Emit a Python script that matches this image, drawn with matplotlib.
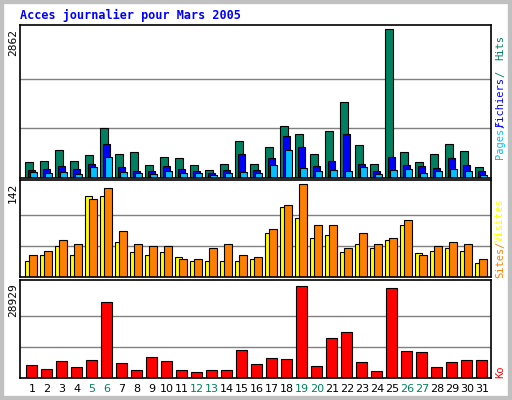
import matplotlib
matplotlib.use("Agg")
import matplotlib.pyplot as plt
from matplotlib.patches import Rectangle

days = [str(d) for d in range(1, 32)]
weekend = {5, 6, 12, 13, 19, 20, 26, 27}
hits = [317,337,531,337,434,958,453,492,259,414,376,259,162,278,706,278,589,997,842,453,900,1463,628,278,2862,492,317,453,648,512,220]
files = [162,181,240,181,278,648,220,142,142,240,181,142,104,162,453,162,376,803,589,240,337,842,278,142,395,259,240,201,376,259,142]
pages = [123,104,123,84,220,414,123,104,84,142,104,104,65,104,123,104,259,531,201,142,162,142,220,84,162,181,104,142,181,142,65]
visits = [33,40,56,50,119,137,71,50,47,47,28,27,44,51,33,31,73,110,142,80,80,44,67,50,60,87,34,48,53,50,27]
sites = [25,33,47,33,124,124,54,39,33,39,30,24,25,24,24,28,67,107,91,60,64,39,50,44,57,80,37,40,45,40,22]
ko = [4013,2746,5280,3379,5597,23654,4646,2429,6547,5280,2429,1795,2429,2429,8765,4330,6230,5914,28929,3696,12566,14467,4963,2112,28300,8448,8131,3379,4963,5597,5597]

W, H = 512, 400
fig = plt.figure(figsize=(5.12, 4.0), dpi=100)
fig.patch.set_facecolor("white")
fig.add_artist(Rectangle((0, 0), 1, 1, transform=fig.transFigure, fill=False, ec="#c0c0c0", lw=6))

def ax_px(x0, y0, x1, y1):
    return fig.add_axes([x0 / W, 1 - y1 / H, (x1 - x0) / W, (y1 - y0) / H])

def style(ax, vmax, top):
    ax.set_xlim(-0.5, 30.9)
    ax.set_ylim(0, vmax * top)
    for g in (vmax / 3, 2 * vmax / 3):
        ax.axhline(g, color="#808080", lw=1, zorder=0)
    ax.set_xticks([]); ax.set_yticks([])
    for s in ax.spines.values():
        s.set_linewidth(1.2)

x = list(range(31))
ek = dict(edgecolor="black", linewidth=0.8, align="edge", zorder=2)

ax1 = ax_px(20, 25, 491, 178)
ax1.bar([i - 0.17 for i in x], hits, 0.53, color="#008060", **ek)
ax1.bar([i + 0.03 for i in x], files, 0.47, color="#0000ff", **ek)
ax1.bar([i + 0.17 for i in x], pages, 0.47, color="#00c0ff", **ek)
style(ax1, max(hits), 1.03)

ax2 = ax_px(20, 180, 491, 277)
ax2.bar([i - 0.15 for i in x], sites, 0.45, color="#ffff00", **ek)
ax2.bar([i + 0.1 for i in x], visits, 0.5, color="#ff8000", **ek)
style(ax2, max(visits), 1.047)

ax3 = ax_px(20, 280, 491, 378)
ax3.bar([i - 0.1 for i in x], ko, 0.73, color="#ff0000", **ek)
style(ax3, max(ko), 1.06)
for i, d in enumerate(days):
    ax3.text(i + 0.3, -0.06, d, transform=ax3.get_xaxis_transform(), ha="center", va="top",
             fontsize=8, color="#008060" if int(d) in weekend else "black")

mono = "DejaVu Sans Mono"
fig.text(20 / W, 1 - 15 / H, "Acces journalier pour Mars 2005", color="#0000ff", fontsize=8.5,
         family=mono, fontweight="bold", va="center", ha="left")

def side(px, py, s, c, fs=7.5):
    fig.text(px / W, 1 - py / H, s, color=c, rotation=90, fontsize=fs, family=mono,
             ha="center", va="center")

side(13, 42, "2862", "black", 8)
side(13, 193, "142", "black", 8)
side(13, 300, "28929", "black", 8)
side(500, 143, "Pages", "#00c0ff")
side(500, 125, "/", "#0000ff")
side(500, 101, "Fichiers", "#0000ff")
side(500, 74, "/", "#008060")
side(500, 48, "Hits", "#008060")
side(500, 262, "Sites", "#ff8000")
side(500, 245, "/", "#ff8000")
side(500, 220, "Visites", "#ffff00")
side(500, 372, "Ko", "#ff0000")

fig.savefig("out.png", dpi=100)
